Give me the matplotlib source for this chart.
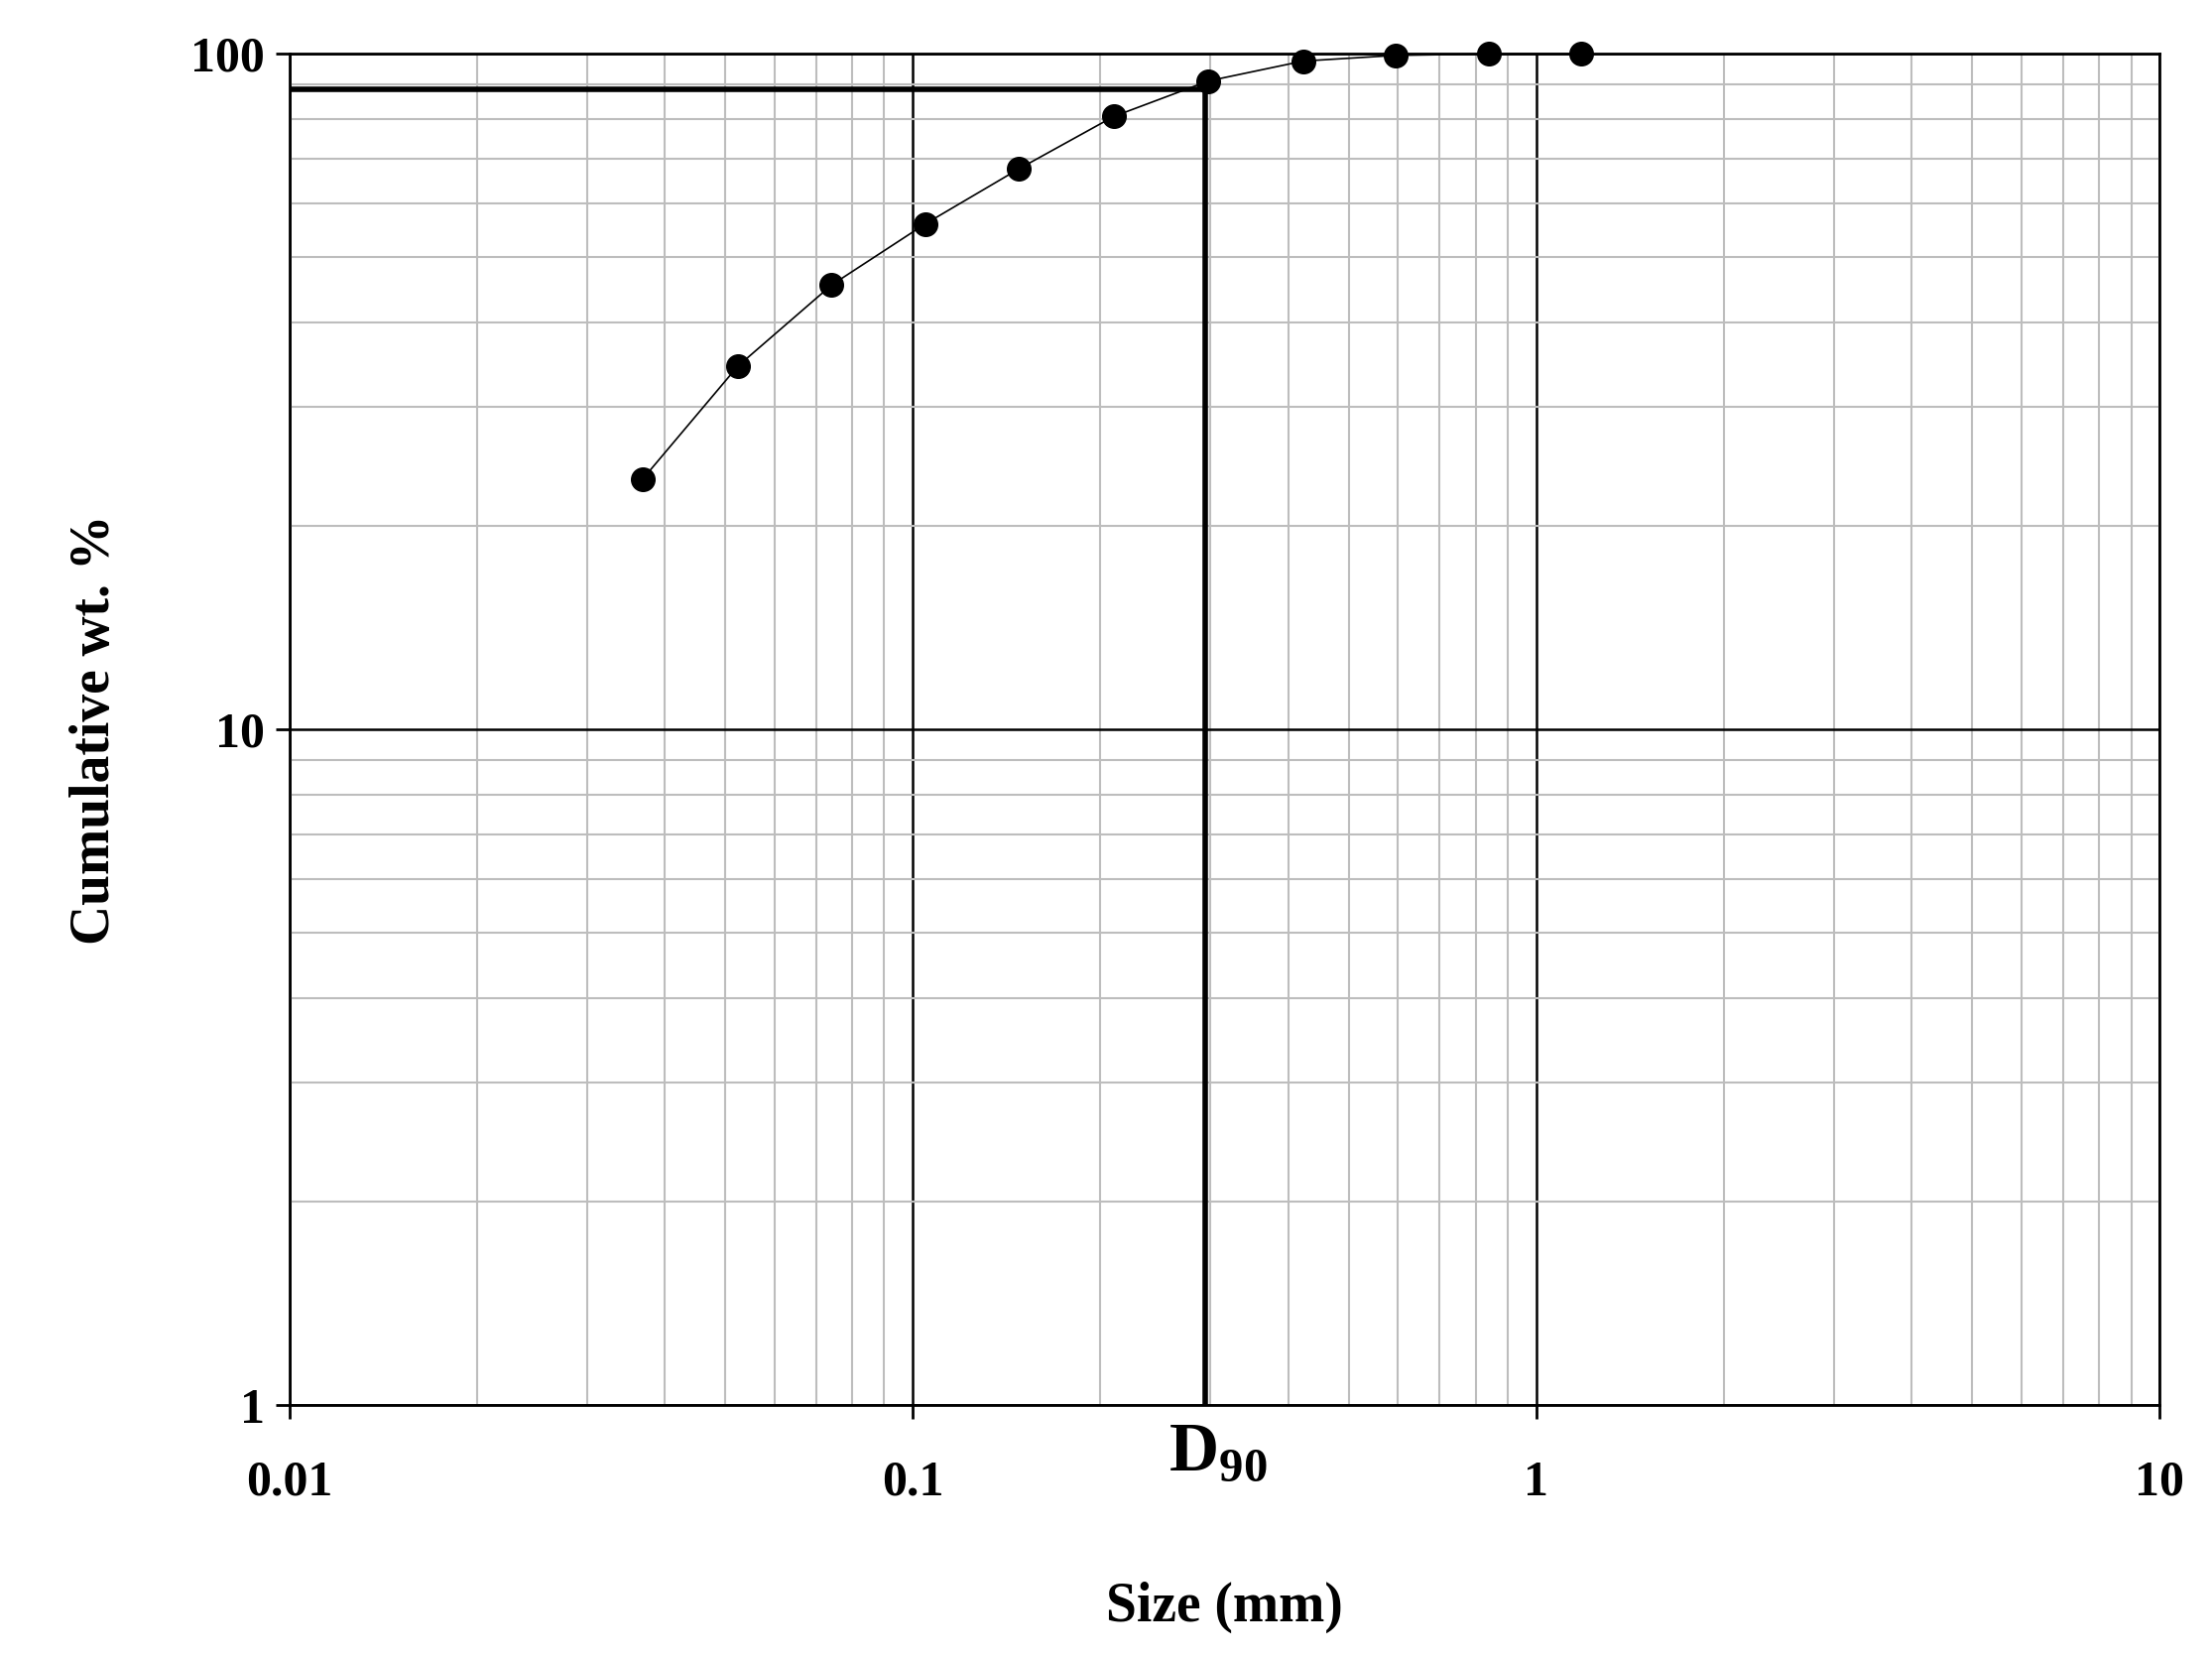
import matplotlib.pyplot as plt
from matplotlib.ticker import LogLocator, FixedLocator, FixedFormatter, NullFormatter

size_mm = [0.0369, 0.0524, 0.0741, 0.1046, 0.148, 0.210, 0.298, 0.423, 0.594, 0.84, 1.178]
cum_wt = [23.5, 34.5, 45.5, 56.0, 67.6, 80.8, 91.2, 97.6, 99.5, 100, 100]
d90_size = 0.294
d90_pct = 88.7

plt.rcParams['font.family'] = ['Liberation Serif', 'DejaVu Serif']
plt.rcParams['font.weight'] = 'bold'

fig = plt.figure(figsize=(22.3, 16.72), dpi=100)
ax = fig.add_axes([0.1308, 0.153, 0.8506 - 0.005, 0.8145])
ax.set_xscale('log')
ax.set_yscale('log')
ax.set_xlim(0.01, 10)
ax.set_ylim(1, 100)

ax.plot(size_mm, cum_wt, color='black', lw=1.2, marker='o', ms=17, mfc='black',
        zorder=4, clip_on=False)

# D90 construction lines
ax.plot([0.01, d90_size], [d90_pct, d90_pct], color='black', lw=4, zorder=3)
ax.plot([d90_size, d90_size], [1, d90_pct], color='black', lw=4, zorder=3)

ax.xaxis.set_major_locator(FixedLocator([0.01, 0.1, 1, 10]))
ax.xaxis.set_major_formatter(FixedFormatter(['0.01', '0.1', '1', '10']))
ax.xaxis.set_minor_locator(LogLocator(base=10, subs=range(2, 10)))
ax.xaxis.set_minor_formatter(NullFormatter())
ax.yaxis.set_major_locator(FixedLocator([1, 10, 100]))
ax.yaxis.set_major_formatter(FixedFormatter(['1', '10', '100']))
ax.yaxis.set_minor_locator(LogLocator(base=10, subs=range(2, 10)))
ax.yaxis.set_minor_formatter(NullFormatter())

ax.grid(which='minor', color='#bdbdbd', lw=1.5)
ax.grid(which='major', color='black', lw=1.8)
ax.set_axisbelow(True)
for s in ax.spines.values():
    s.set_linewidth(2)
ax.tick_params(which='major', labelsize=36, length=10, width=2)
ax.tick_params(axis='x', pad=30)
ax.tick_params(axis='y', pad=8)
ax.tick_params(which='minor', length=0)

ax.set_xlabel('Size (mm)', fontsize=40, fontweight='bold', labelpad=55)
ax.set_ylabel('Cumulative wt. %', fontsize=40, fontweight='bold', labelpad=50)

ax.text(d90_size * 1.05, 0.85, r'D$_{\mathregular{90}}$', fontsize=50, fontweight='bold',
        ha='center', va='center', clip_on=False)

fig.savefig('out.png', dpi=100)
